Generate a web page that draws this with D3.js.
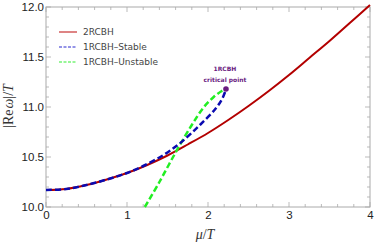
<!DOCTYPE html>
<html>
<head>
<script src="https://cdn.jsdelivr.net/npm/d3@7"></script>
<style>
body { margin: 0; background: #fff; }
.tick text { font-family: "Liberation Sans", sans-serif; font-size: 11.5px; fill: #222; }
.legend text { font-family: "DejaVu Sans", sans-serif; font-size: 9px; fill: #444; }
.title { font-family: "Liberation Serif", serif; font-size: 14px; fill: #333; }
</style>
</head>
<body>
<script>
// 2RCBH
var muRed  = [0, 0.25, 0.5, 0.75, 1.0, 1.25, 1.5, 1.75, 2.0, 2.25, 2.5, 2.75, 3.0, 3.25, 3.5, 3.75, 4.0];
var valRed = [10.17, 10.18, 10.22, 10.275, 10.34, 10.42, 10.515, 10.625, 10.74, 10.87, 11.01, 11.16, 11.32, 11.49, 11.66, 11.84, 12.02];
// 1RCBH stable
var muBlue  = [0, 0.25, 0.5, 0.75, 1.0, 1.2, 1.45, 1.65, 1.9, 2.1, 2.18, 2.222];
var valBlue = [10.17, 10.18, 10.22, 10.275, 10.34, 10.41, 10.52, 10.635, 10.82, 10.99, 11.09, 11.177];
// 1RCBH unstable
var muGreen  = [1.22, 1.4, 1.6, 1.8, 1.95, 2.07, 2.17, 2.222];
var valGreen = [10.0, 10.25, 10.545, 10.82, 11.0, 11.10, 11.16, 11.18];
var critical = [2.222, 11.18];

var xTicks = [0, 1, 2, 3, 4];
var yTicks = [10.0, 10.5, 11.0, 11.5, 12.0];
var legendNames = ["2RCBH", "1RCBH\u2013Stable", "1RCBH\u2013Unstable"];

var width = 374, height = 245;
var pLeft = 46, pRight = 370, pTop = 7, pBottom = 207;

var svg = d3.select("body").append("svg")
	.attr("width", width)
	.attr("height", height);

var x = d3.scaleLinear().domain([0, 4]).range([pLeft, pRight]);
var y = d3.scaleLinear().domain([10, 12]).range([pBottom, pTop]);

// frame
svg.append("rect")
	.attr("x", pLeft).attr("y", pTop)
	.attr("width", pRight - pLeft).attr("height", pBottom - pTop)
	.attr("fill", "none").attr("stroke", "#aaa").attr("stroke-width", 1);

// minor + major ticks on all sides (inward)
var xMinor = d3.range(0, 4.001, 0.2);
var yMinor = d3.range(10, 12.001, 0.1);
var g = svg.append("g").attr("stroke", "#aaa").attr("stroke-width", 0.8);
xMinor.forEach(function(v) {
	var major = Math.abs(v - Math.round(v)) < 1e-6;
	var len = major ? 5 : 3;
	g.append("line").attr("x1", x(v)).attr("x2", x(v)).attr("y1", pBottom).attr("y2", pBottom - len);
	g.append("line").attr("x1", x(v)).attr("x2", x(v)).attr("y1", pTop).attr("y2", pTop + len);
});
yMinor.forEach(function(v) {
	var major = Math.abs(v * 2 - Math.round(v * 2)) < 1e-6;
	var len = major ? 5 : 3;
	g.append("line").attr("y1", y(v)).attr("y2", y(v)).attr("x1", pLeft).attr("x2", pLeft + len);
	g.append("line").attr("y1", y(v)).attr("y2", y(v)).attr("x1", pRight).attr("x2", pRight - len);
});

// axes for labels only
svg.append("g")
	.attr("transform", "translate(0," + pBottom + ")")
	.call(d3.axisBottom(x).tickValues(xTicks).tickSize(0).tickPadding(4).tickFormat(d3.format("d")))
	.call(function(s) { s.select(".domain").remove(); });
svg.append("g")
	.attr("transform", "translate(" + pLeft + ",0)")
	.call(d3.axisLeft(y).tickValues(yTicks).tickSize(0).tickPadding(2).tickFormat(d3.format(".1f")))
	.call(function(s) { s.select(".domain").remove(); });

function pts(xs, ys) { return xs.map(function(d, i) { return [d, ys[i]]; }); }
var line = d3.line()
	.x(function(d) { return x(d[0]); })
	.y(function(d) { return y(d[1]); })
	.curve(d3.curveCatmullRom.alpha(0.5));

var plot = svg.append("g");
plot.append("path").datum(pts(muRed, valRed))
	.attr("d", line).attr("fill", "none")
	.attr("stroke", "#b30000").attr("stroke-width", 2);
plot.append("path").datum(pts(muGreen, valGreen))
	.attr("d", line).attr("fill", "none")
	.attr("stroke", "#22ee22").attr("stroke-width", 2.5)
	.attr("stroke-dasharray", "6,3");
plot.append("path").datum(pts(muBlue, valBlue))
	.attr("d", line).attr("fill", "none")
	.attr("stroke", "#0a0ab0").attr("stroke-width", 2.5)
	.attr("stroke-dasharray", "6,3");

// critical point
svg.append("circle")
	.attr("cx", x(critical[0])).attr("cy", y(critical[1]))
	.attr("r", 2.8).attr("fill", "#6a1b7f");
svg.append("text")
	.attr("x", x(critical[0]) - 1).attr("y", y(critical[1]) - 18)
	.attr("text-anchor", "middle")
	.style("font-family", "'DejaVu Sans', sans-serif").style("font-size", "6px")
	.style("font-weight", "bold").attr("fill", "#6a1b7f")
	.text("1RCBH");
svg.append("text")
	.attr("x", x(critical[0]) - 1).attr("y", y(critical[1]) - 7)
	.attr("text-anchor", "middle")
	.style("font-family", "'DejaVu Sans', sans-serif").style("font-size", "6px")
	.style("font-weight", "bold").attr("fill", "#6a1b7f")
	.text("critical point");

// legend
var legendColors = ["#c83232", "#2a2ad0", "#33ee33"];
var legendDash = [null, "3,1.5", "3,1.5"];
var lg = svg.append("g").attr("class", "legend");
legendNames.forEach(function(n, i) {
	var yy = 32 + i * 15;
	lg.append("line").attr("x1", 59).attr("x2", 77).attr("y1", yy).attr("y2", yy)
		.attr("stroke", legendColors[i]).attr("stroke-width", 1.2)
		.attr("stroke-dasharray", legendDash[i]);
	lg.append("text").attr("x", 83).attr("y", yy + 3).text(n);
});

// axis titles
var xt = svg.append("text").attr("class", "title")
	.attr("x", 205).attr("y", 239).attr("text-anchor", "middle");
xt.append("tspan").style("font-style", "italic").text("\u03bc");
xt.append("tspan").text("/");
xt.append("tspan").style("font-style", "italic").text("T");

var yt = svg.append("text").attr("class", "title")
	.attr("transform", "translate(13,106) rotate(-90)")
	.attr("text-anchor", "middle");
yt.append("tspan").text("|Re");
yt.append("tspan").attr("dx", 1).style("font-style", "italic").text("\u03c9");
yt.append("tspan").text("|/");
yt.append("tspan").style("font-style", "italic").text("T");
</script>
</body>
</html>
